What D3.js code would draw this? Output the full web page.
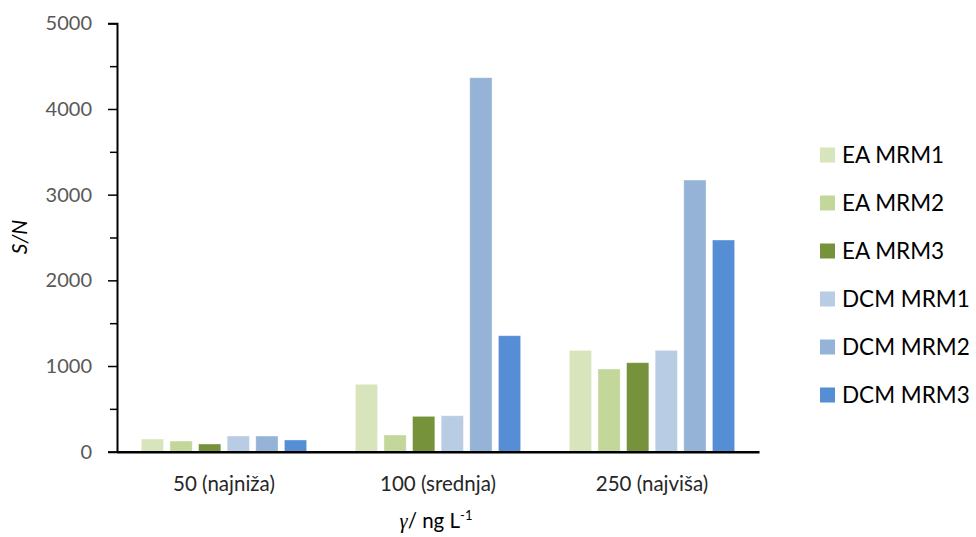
<!DOCTYPE html>
<html>
<head>
<meta charset="utf-8">
<script src="https://cdn.jsdelivr.net/npm/d3@7"></script>
<style>
  body { margin: 0; background: #fff; }
  svg { display: block; }
  text { font-family: Lato, "Open Sans", sans-serif; }
</style>
</head>
<body>
<svg id="chart" width="976" height="537"></svg>
<script>
const categories = ["50 (najniža)", "100 (srednja)", "250 (najviša)"];
const seriesNames = ["EA MRM1", "EA MRM2", "EA MRM3", "DCM MRM1", "DCM MRM2", "DCM MRM3"];
const seriesColors = ["#D8E4BC", "#C4D79B", "#76933C", "#B8CCE4", "#95B3D7", "#558ED5"];
const eaMrm1  = [148, 787, 1183];
const eaMrm2  = [125, 195, 965];
const eaMrm3  = [90, 413, 1039];
const dcmMrm1 = [183, 420, 1183];
const dcmMrm2 = [183, 4365, 3171];
const dcmMrm3 = [137, 1354, 2471];
const seriesValues = [eaMrm1, eaMrm2, eaMrm3, dcmMrm1, dcmMrm2, dcmMrm3];
const yTicks = [0, 1000, 2000, 3000, 4000, 5000];
const yMinorTicks = [500, 1500, 2500, 3500, 4500];

const svg = d3.select("#chart");
const plotLeft = 117, plotRight = 759, plotTop = 23.3, plotBottom = 451.7;

const x0 = d3.scaleBand().domain(categories).range([plotLeft, plotRight]).padding(0);
const x1 = d3.scaleBand().domain(seriesNames).range([0, x0.bandwidth()])
  .paddingInner(0.22).paddingOuter(0.85);
const y = d3.scaleLinear().domain([0, 5000]).range([plotBottom, plotTop]);

// bars
categories.forEach((cat, ci) => {
  seriesNames.forEach((s, si) => {
    const v = seriesValues[si][ci];
    svg.append("rect")
      .attr("x", x0(cat) + x1(s))
      .attr("y", y(v))
      .attr("width", x1.bandwidth())
      .attr("height", y(0) - y(v))
      .attr("fill", seriesColors[si])
      .attr("stroke", "#ffffff")
      .attr("stroke-opacity", 0.5)
      .attr("stroke-width", 0.8);
  });
});

// y axis
const yAxis = d3.axisLeft(y).tickValues(yTicks).tickSize(9).tickPadding(16).tickFormat(d3.format("d"));
const gy = svg.append("g").attr("transform", `translate(${plotLeft},0)`).call(yAxis);
gy.select(".domain").attr("stroke", "#000").attr("stroke-width", 2);
gy.selectAll(".tick line").attr("stroke", "#000").attr("stroke-width", 1.5);
gy.selectAll(".tick text").attr("fill", "#595959").style("font-size", "20px").style("font-family", "Lato, sans-serif");

const yMinor = d3.axisLeft(y).tickValues(yMinorTicks).tickSize(7).tickFormat("");
const gym = svg.append("g").attr("transform", `translate(${plotLeft},0)`).call(yMinor);
gym.select(".domain").remove();
gym.selectAll(".tick line").attr("stroke", "#000").attr("stroke-width", 1.5);

// x axis
const xAxis = d3.axisBottom(x0).tickSize(0).tickPadding(25);
const gx = svg.append("g").attr("transform", `translate(0,${plotBottom})`).call(xAxis);
gx.select(".domain").attr("stroke", "#000").attr("stroke-width", 2.5);
gx.selectAll(".tick text").attr("fill", "#262626").style("font-size", "20.5px").style("font-family", "Lato, sans-serif");

// axis titles
svg.append("text")
  .attr("transform", "translate(27,237) rotate(-90)")
  .attr("text-anchor", "middle")
  .style("font-size", "21px")
  .style("font-style", "italic")
  .attr("fill", "#000")
  .text("S/N");

const xt = svg.append("text")
  .attr("x", (plotLeft + plotRight) / 2 - 2)
  .attr("y", 528)
  .attr("text-anchor", "middle")
  .style("font-size", "20.5px")
  .attr("fill", "#000");
xt.append("tspan").style("font-family", "'Liberation Serif', serif").style("font-style", "italic").text("γ");
xt.append("tspan").text("/ ng L");
xt.append("tspan").attr("dy", -8).style("font-size", "13px").text("-1");

// legend
const legend = svg.append("g");
seriesNames.forEach((s, i) => {
  const cy = 155 + i * 48;
  legend.append("rect").attr("x", 820).attr("y", cy - 7.5).attr("width", 15).attr("height", 15).attr("fill", seriesColors[i]);
  legend.append("text").attr("x", 842).attr("y", cy).attr("dy", "0.36em")
    .style("font-size", "22.5px").attr("fill", "#000").text(s);
});
</script>
</body>
</html>
